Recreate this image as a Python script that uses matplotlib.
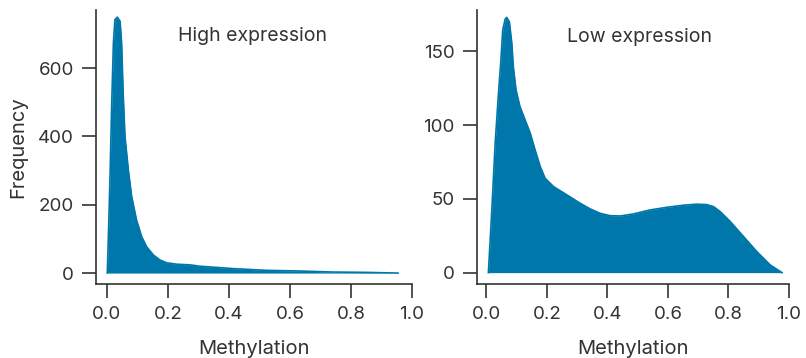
import matplotlib
matplotlib.use("Agg")
import matplotlib.pyplot as plt

plt.rcParams['font.family'] = ['Inter', 'DejaVu Sans']

# High expression density outline (methylation, frequency)
high_x = [0.001, 0.004, 0.010, 0.015, 0.021, 0.026, 0.034, 0.043, 0.048, 0.053,
          0.059, 0.070, 0.081, 0.097, 0.114, 0.130, 0.152, 0.174, 0.196, 0.228,
          0.272, 0.305, 0.414, 0.523, 0.632, 0.741, 0.85, 0.954]
high_y = [0, 87, 282, 478, 673, 742, 749, 737, 673, 527,
          400, 302, 224, 155, 106, 77, 53, 38, 30, 26,
          24, 20, 13, 8, 6, 3, 2, 0]

# Low expression density outline
low_x = [0.0066, 0.018, 0.029, 0.040, 0.048, 0.054, 0.062, 0.067, 0.076, 0.084,
         0.089, 0.098, 0.111, 0.128, 0.145, 0.161, 0.178, 0.194, 0.222, 0.266,
         0.310, 0.343, 0.376, 0.409, 0.442, 0.486, 0.541, 0.597, 0.651, 0.696,
         0.729, 0.751, 0.773, 0.806, 0.850, 0.894, 0.938, 0.977]
low_y = [0, 42.5, 87.7, 121.6, 144, 164.5, 171.8, 173, 170, 155.5,
         139.6, 123.8, 112.5, 103.5, 94.5, 83.2, 71.9, 64, 58.3, 52.7,
         47, 43.2, 40.2, 38.6, 38.4, 39.8, 42.5, 44.3, 45.7, 46.4,
         46.1, 44.7, 41.3, 34.6, 24.4, 14.2, 5.2, 0]

x_ticks = [0.0, 0.2, 0.4, 0.6, 0.8, 1.0]
high_yticks = [0, 200, 400, 600]
low_yticks = [0, 50, 100, 150]

color = '#0077AA'
text_color = '#333333'
W, H = 806, 358
fig = plt.figure(figsize=(W/100, H/100), dpi=100)

def frac(x0, y0, x1, y1):
    return [x0/W, 1 - y1/H, (x1-x0)/W, (y1-y0)/H]

ax1 = fig.add_axes(frac(96, 10, 412, 284))
ax2 = fig.add_axes(frac(477, 10, 789, 284))

panels = [
    (ax1, high_x, high_y, high_yticks, (-0.036, 1.0), (-32, 770), 'High expression', 0.477, 694),
    (ax2, low_x, low_y, low_yticks, (-0.031, 1.0), (-7.7, 178), 'Low expression', 0.507, 160),
]

for ax, xs, ys, yt, xl, yl, title, tx, ty in panels:
    ax.fill_between(xs, ys, 0, color=color, lw=0)
    ax.plot(xs, ys, color=color, lw=1.2, solid_joinstyle='round')
    ax.set_xlim(*xl)
    ax.set_ylim(*yl)
    ax.set_xticks(x_ticks)
    ax.set_xticklabels([f'{v:.1f}' for v in x_ticks])
    ax.set_yticks(yt)
    for s in ['top', 'right']:
        ax.spines[s].set_visible(False)
    for s in ['left', 'bottom']:
        ax.spines[s].set_color('#333333')
        ax.spines[s].set_linewidth(1.2)
    ax.tick_params(axis='both', colors='#333333', labelcolor=text_color,
                   labelsize=13.5, length=10, width=1.2, pad=6)
    ax.text(tx, ty, title, ha='center', va='center', fontsize=14, color=text_color)
    ax.set_xlabel('Methylation', fontsize=14.5, color=text_color, labelpad=12)

ax1.set_ylabel('Frequency', fontsize=14.5, color=text_color, labelpad=8)

fig.savefig('out.png', dpi=100)
